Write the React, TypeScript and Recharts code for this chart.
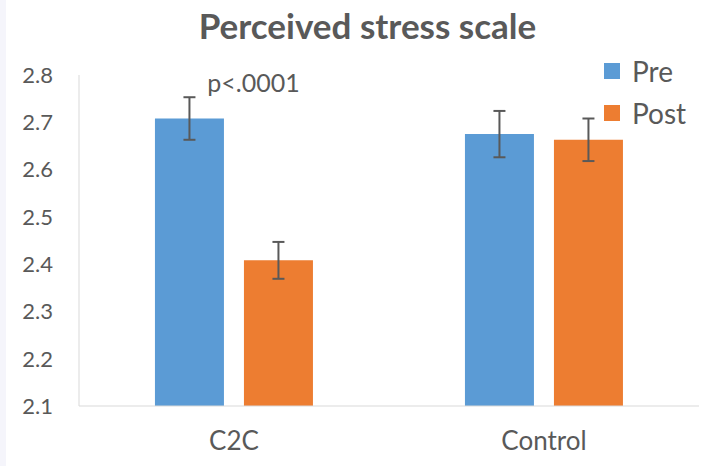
import { Bar, BarChart, ErrorBar, LabelList, Legend, XAxis, YAxis } from 'recharts'

const categories = ['C2C', 'Control']
const seriesNames = ['Pre', 'Post']
const preMeans = [2.708, 2.675]
const postMeans = [2.408, 2.663]
const preErrors = [0.045, 0.049]
const postErrors = [0.039, 0.045]
const notes = ['p<.0001', '']
const yTicks = [2.1, 2.2, 2.3, 2.4, 2.5, 2.6, 2.7, 2.8]

const chartData = categories.map((name, i) => ({
	name,
	pre: preMeans[i],
	post: postMeans[i],
	preErr: preErrors[i],
	postErr: postErrors[i],
	note: notes[i],
}))

const FONT = 'Lato, "Open Sans", sans-serif'
const TEXT = '#595959'

function NoteLabel(props: any) {
	const { x, y, width, value } = props
	if (!value) return null
	return (
		<text
			x={x + width / 2 + 64}
			y={y - 27}
			textAnchor='middle'
			fill={TEXT}
			fontSize={25}
			fontFamily={FONT}
		>
			{value}
		</text>
	)
}

function LegendBox(props: any) {
	const items = [...(props.payload || [])].sort(
		(a: any, b: any) => seriesNames.indexOf(a.value) - seriesNames.indexOf(b.value)
	)
	return (
		<div style={{ fontFamily: FONT, color: TEXT }}>
			{items.map((item: any) => (
				<div
					key={item.value}
					style={{ display: 'flex', alignItems: 'center', height: 42 }}
				>
					<span
						style={{
							width: 16,
							height: 16,
							background: item.color,
							marginRight: 12,
						}}
					/>
					<span style={{ fontSize: 28 }}>{item.value}</span>
				</div>
			))}
		</div>
	)
}

export default function App() {
	return (
		<div
			style={{
				position: 'absolute',
				left: 0,
				top: 0,
				width: 723,
				height: 466,
				background: '#fff',
			}}
		>
			<div
				style={{
					position: 'absolute',
					left: 0,
					top: 0,
					width: 6,
					height: 466,
					background: '#f5f5fb',
				}}
			/>
			<div
				style={{
					position: 'absolute',
					left: 0,
					top: 4,
					width: 735,
					textAlign: 'center',
					fontFamily: FONT,
					fontWeight: 700,
					fontSize: 35,
					color: TEXT,
				}}
			>
				Perceived stress scale
			</div>
			<BarChart
				width={723}
				height={466}
				data={chartData}
				margin={{ top: 75, right: 24, left: 0, bottom: 0 }}
				barCategoryGap='24.5%'
				barGap={20}
			>
				<XAxis
					dataKey='name'
					height={60}
					stroke='#d9d9d9'
					tickLine={false}
					tickMargin={20}
					tick={{ fill: TEXT, fontSize: 26, fontFamily: FONT }}
				/>
				<YAxis
					width={79}
					domain={[2.1, 2.8]}
					ticks={yTicks}
					stroke='#d9d9d9'
					tickLine={false}
					tickMargin={20}
					tickFormatter={(v: number) => v.toFixed(1)}
					tick={{ fill: TEXT, fontSize: 22, fontFamily: FONT }}
				/>
				<Legend
					layout='horizontal'
					align='center'
					verticalAlign='middle'
					wrapperStyle={{ left: 604, top: 50, width: 115 }}
					content={<LegendBox />}
				/>
				<Bar
					dataKey='pre'
					name='Pre'
					fill='#5b9bd5'
					isAnimationActive={false}
				>
					<ErrorBar
						dataKey='preErr'
						width={6}
						stroke={TEXT}
						strokeWidth={2}
						direction='y'
					/>
					<LabelList
						dataKey='note'
						content={<NoteLabel />}
					/>
				</Bar>
				<Bar
					dataKey='post'
					name='Post'
					fill='#ed7d31'
					isAnimationActive={false}
				>
					<ErrorBar
						dataKey='postErr'
						width={6}
						stroke={TEXT}
						strokeWidth={2}
						direction='y'
					/>
				</Bar>
			</BarChart>
		</div>
	)
}
